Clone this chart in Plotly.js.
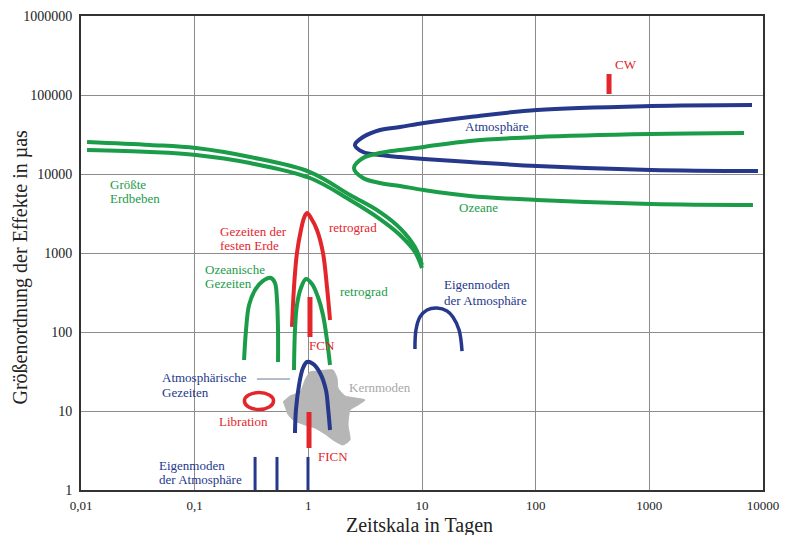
<!DOCTYPE html>
<html>
<head>
<meta charset="utf-8">
<script src="https://cdn.plot.ly/plotly-3.0.1.min.js"></script>
<style>
html, body { margin: 0; padding: 0; background: #fff; }
#plot { width: 798px; height: 535px; }
</style>
</head>
<body>
<div id="plot"></div>
<script>
// axis ticks
var xTickVals = [0.01, 0.1, 1, 10, 100, 1000, 10000];
var xTickText = ['0,01', '0,1', '1', '10', '100', '1000', '10000'];
var yTickVals = [1, 10, 100, 1000, 10000, 100000, 1000000];
var yTickText = ['1', '10', '100', '1000', '10000', '100000', '1000000'];

// groesste Erdbeben (two green bands)
var quakeX = [0.0113, 0.0405, 0.1027, 0.307, 1.034, 2.326, 4.27, 6.40, 8.67, 10.0];
var quakeUpperY = [25400, 23300, 21300, 16400, 10590, 5420, 3300, 2070, 1190, 705];
var quakeLowerY = [20100, 18970, 17400, 13770, 8900, 4690, 2690, 1690, 1030, 646];

// Atmosphaere loop (blue)
var atmX = [8000, 1035, 102.8, 26.4, 10.4, 6.40, 4.27, 3.03, 2.57, 3.03, 4.27, 6.40, 10.4, 26.4, 102.8, 1035, 9035];
var atmY = [74700, 72600, 64600, 52700, 44200, 39400, 36100, 29400, 23300, 18970, 17400, 16400, 15490, 14190, 12620, 11250, 10900];

// Ozeane loop (green)
var oceanX = [6810, 1035, 102.8, 26.4, 10.4, 6.40, 4.27, 3.03, 2.52, 3.03, 4.27, 6.40, 10.4, 26.4, 102.8, 1035, 8160];
var oceanY = [33000, 32100, 29400, 26200, 22000, 20100, 18450, 15950, 11910, 8900, 7690, 7050, 6270, 5270, 4690, 4170, 4050];

// Gezeiten der festen Erde (red arch)
var solidTideX = [0.718, 0.748, 0.794, 0.861, 0.916, 0.973, 1.055, 1.191, 1.346, 1.459, 1.552];
var solidTideY = [116, 371, 1000, 1955, 2775, 3210, 2775, 1955, 1000, 371, 142];

// Ozeanische Gezeiten (green arches)
var oceanTide1X = [0.272, 0.283, 0.301, 0.340, 0.399, 0.469, 0.509, 0.530, 0.541, 0.541];
var oceanTide1Y = [44.2, 106, 220, 340, 443, 483, 417, 254, 106, 41.7];
var oceanTide2X = [0.748, 0.763, 0.794, 0.861, 0.953, 1.077, 1.216, 1.346, 1.459, 1.552];
var oceanTide2Y = [33.0, 106, 220, 361, 469, 405, 277, 164, 79.2, 38.2];

// Atmosphaerische Gezeiten (blue arch)
var atmTideX = [0.763, 0.778, 0.828, 0.897, 0.973, 1.099, 1.267, 1.429, 1.489, 1.552];
var atmTideY = [5.27, 10.3, 21.3, 35.0, 41.7, 39.4, 30.3, 18.4, 11.2, 5.75];

// Eigenmoden der Atmosphaere (blue arch near 10 days)
var atmModeX = [8.67, 8.85, 9.60, 11.07, 13.55, 16.6, 18.7, 21.2, 22.5];
var atmModeY = [61.0, 106, 155, 190, 201, 185, 155, 106, 57.4];

// Kernmoden (grey area)
var coreX = [0.598, 0.690, 0.846, 0.936, 1.034, 1.216, 1.648, 1.787, 1.824, 2.101, 3.151, 2.735, 2.326, 2.234, 2.326, 2.018, 1.648, 1.402, 1.144, 0.936, 0.733, 0.648];
var coreY = [13.0, 15.5, 17.4, 24.7, 31.2, 32.1, 33.0, 26.2, 19.5, 15.5, 13.8, 11.9, 10.3, 6.65, 4.30, 3.71, 4.30, 5.12, 6.10, 6.65, 7.69, 9.44];

// vertical bars: FCN, FICN, CW (red) and atmospheric eigenmodes (blue)
var redBarX = [1.034, 1.014, 442];
var redBarLow = [86.5, 3.40, 103000];
var redBarHigh = [277, 9.71, 184500];
var blueBarX = [0.340, 0.530, 0.993];
var blueBarLow = [1.0, 1.0, 1.0];
var blueBarHigh = [2.62, 2.62, 2.62];

// Libration ellipse bounds
var librationX = [0.274, 0.494];
var librationY = [10.45, 17.1];

// pointer line next to "Atmosphaerische Gezeiten"
var pointerX = [0.353, 0.690];
var pointerY = [25.4, 25.4];

var green = '#1b9c48', blue = '#25388c', red = '#e2262c', grey = '#b6b6b6';

function curve(x, y, color, width) {
    return {x: x, y: y, type: 'scatter', mode: 'lines', hoverinfo: 'skip',
        line: {color: color, width: width, shape: 'spline', smoothing: 1}};
}

var traces = [];
traces.push({x: coreX, y: coreY, type: 'scatter', mode: 'lines', fill: 'toself',
    fillcolor: grey, line: {color: grey, width: 1, shape: 'spline', smoothing: 0.5}, hoverinfo: 'skip'});
traces.push(curve(quakeX, quakeUpperY, green, 4));
traces.push(curve(quakeX, quakeLowerY, green, 4));
traces.push(curve(atmX, atmY, blue, 4));
traces.push(curve(oceanX, oceanY, green, 4));
traces.push(curve(solidTideX, solidTideY, red, 4));
traces.push(curve(oceanTide1X, oceanTide1Y, green, 4));
traces.push(curve(oceanTide2X, oceanTide2Y, green, 4));
traces.push(curve(atmTideX, atmTideY, blue, 4));
traces.push(curve(atmModeX, atmModeY, blue, 3.5));
traces.push({x: pointerX, y: pointerY, type: 'scatter', mode: 'lines', hoverinfo: 'skip',
    line: {color: '#6b7894', width: 1}});
for (var i = 0; i < redBarX.length; i++) {
    traces.push({x: [redBarX[i], redBarX[i]], y: [redBarLow[i], redBarHigh[i]], type: 'scatter',
        mode: 'lines', hoverinfo: 'skip', line: {color: red, width: 5}});
}
for (var j = 0; j < blueBarX.length; j++) {
    traces.push({x: [blueBarX[j], blueBarX[j]], y: [blueBarLow[j], blueBarHigh[j]], type: 'scatter',
        mode: 'lines', hoverinfo: 'skip', line: {color: blue, width: 3}});
}

// labels, one line each: [text, x, y, colour]
var labels = [
    ['Größte', 0.01728, 7470, green],
    ['Erdbeben', 0.01728, 4827, green],
    ['Gezeiten der', 0.1603, 1845, red],
    ['festen Erde', 0.1603, 1227, red],
    ['retrograd', 1.459, 2133, red],
    ['Ozeanische', 0.1183, 610, green],
    ['Gezeiten', 0.1183, 417, green],
    ['retrograd', 1.824, 330, green],
    ['FCN', 0.975, 68.4, red],
    ['Atmosphärische', 0.0495, 26.2, blue],
    ['Gezeiten', 0.0495, 17.4, blue],
    ['Libration', 0.157, 7.26, red],
    ['FICN', 1.167, 2.62, red],
    ['Eigenmoden', 0.0466, 2.07, blue],
    ['der Atmosphäre', 0.0466, 1.377, blue],
    ['Kernmoden', 2.188, 20.1, '#a8a8a8'],
    ['Eigenmoden', 15.0, 394, blue],
    ['der Atmosphäre', 15.0, 254, blue],
    ['Atmosphäre', 22.9, 39400, blue],
    ['Ozeane', 20.3, 3820, green],
    ['CW', 479, 240000, red]
];

var annotations = labels.map(function(l) {
    return {text: l[0], x: Math.log10(l[1]), y: Math.log10(l[2]), xref: 'x', yref: 'y',
        xanchor: 'left', yanchor: 'middle', align: 'left', showarrow: false,
        font: {family: 'Liberation Serif, serif', size: 13, color: l[3]}};
});
annotations.push({text: 'Zeitskala in Tagen', xref: 'paper', yref: 'paper', x: 0.497, y: -0.074,
    xanchor: 'center', yanchor: 'middle', showarrow: false,
    font: {family: 'Liberation Serif, serif', size: 20, color: '#222'}});
annotations.push({text: 'Größenordnung der Effekte in µas', xref: 'paper', yref: 'paper', x: -0.089, y: 0.47,
    xanchor: 'center', yanchor: 'middle', textangle: -90, showarrow: false,
    font: {family: 'Liberation Serif, serif', size: 20, color: '#222'}});

var layout = {
    width: 798, height: 535,
    margin: {l: 81, r: 35, t: 16, b: 45},
    paper_bgcolor: '#fff', plot_bgcolor: '#fff',
    showlegend: false,
    font: {family: 'Liberation Serif, serif', color: '#222'},
    xaxis: {type: 'log', range: [-2, 4], tickvals: xTickVals, ticktext: xTickText,
        showgrid: true, gridcolor: '#8c8c8c', gridwidth: 1, zeroline: false,
        showline: true, linecolor: '#333', linewidth: 2, mirror: true, ticks: '',
        ticklabelstandoff: 2, tickfont: {size: 13, color: '#222'}},
    yaxis: {type: 'log', range: [0, 6], tickvals: yTickVals, ticktext: yTickText,
        showgrid: true, gridcolor: '#8c8c8c', gridwidth: 1, zeroline: false,
        showline: true, linecolor: '#333', linewidth: 2, mirror: true, ticks: '',
        ticklabelstandoff: 4, tickfont: {size: 14, color: '#222'}},
    shapes: [{type: 'circle', xref: 'x', yref: 'y', x0: librationX[0], x1: librationX[1],
        y0: librationY[0], y1: librationY[1], line: {color: red, width: 3.5}}],
    annotations: annotations
};

Plotly.newPlot('plot', traces, layout, {displayModeBar: false, staticPlot: true});
</script>
</body>
</html>
